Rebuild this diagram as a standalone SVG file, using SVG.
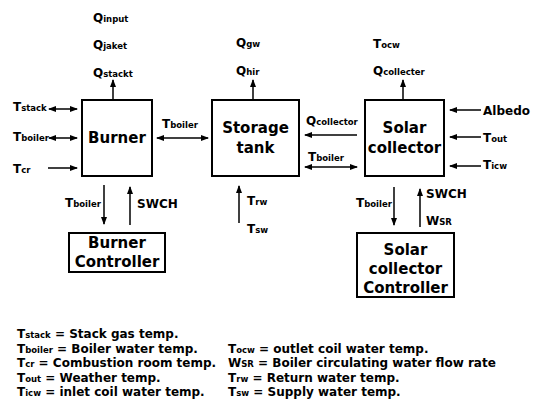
<svg xmlns="http://www.w3.org/2000/svg" width="540" height="408" viewBox="0 0 540 408">
<style>
text{font-family:"DejaVu Sans","Verdana",sans-serif;font-weight:bold;fill:#000}
.lb{font-size:12px}
.s{font-size:8.5px}
.bx{font-size:15px;text-anchor:middle}
.box{fill:#fff;stroke:#000;stroke-width:2}
.c line{stroke:#000;stroke-width:1.5}
</style>
<defs>
<marker id="ah" viewBox="0 0 8 6" refX="7" refY="3" markerWidth="8" markerHeight="6" markerUnits="userSpaceOnUse" orient="auto-start-reverse"><path d="M0,0 L8,3 L0,6 z" fill="#000"/></marker>
</defs>
<rect width="540" height="408" fill="#fff"/>

<g id="burner"><rect class="box" x="82" y="100" width="70" height="76"/><text class="bx" x="117" y="143">Burner</text></g>
<g id="storage"><rect class="box" x="212" y="100" width="87" height="76"/><text class="bx" x="255.5" y="133">Storage</text><text class="bx" x="255.5" y="153">tank</text></g>
<g id="solar"><rect class="box" x="365" y="100" width="79" height="76"/><text class="bx" x="404.5" y="133">Solar</text><text class="bx" x="404.5" y="153">collector</text></g>
<g id="burnerController"><rect class="box" x="69" y="233" width="96" height="39"/><text class="bx" x="117" y="248">Burner</text><text class="bx" x="117" y="267">Controller</text></g>
<g id="solarController"><rect class="box" x="357" y="233" width="97" height="64"/><text class="bx" x="405.5" y="255">Solar</text><text class="bx" x="405.5" y="274">collector</text><text class="bx" x="405.5" y="293">Controller</text></g>

<g id="connectors" class="c">
<line x1="113" y1="100" x2="113" y2="80" marker-end="url(#ah)"/>
<line x1="253" y1="100" x2="253" y2="80" marker-end="url(#ah)"/>
<line x1="403" y1="100" x2="403" y2="80" marker-end="url(#ah)"/>
<line x1="49" y1="109" x2="77" y2="109" marker-start="url(#ah)" marker-end="url(#ah)"/>
<line x1="49" y1="138" x2="77" y2="138" marker-start="url(#ah)" marker-end="url(#ah)"/>
<line x1="48" y1="168" x2="77" y2="168" marker-end="url(#ah)"/>
<line x1="157" y1="138" x2="208" y2="138" marker-start="url(#ah)" marker-end="url(#ah)"/>
<line x1="357" y1="135" x2="305" y2="135" marker-end="url(#ah)"/>
<line x1="305" y1="167" x2="357" y2="167" marker-start="url(#ah)" marker-end="url(#ah)"/>
<line x1="481" y1="110" x2="450" y2="110" marker-end="url(#ah)"/>
<line x1="481" y1="137" x2="450" y2="137" marker-end="url(#ah)"/>
<line x1="481" y1="166" x2="450" y2="166" marker-end="url(#ah)"/>
<line x1="104" y1="185" x2="104" y2="224" marker-end="url(#ah)"/>
<line x1="130" y1="225" x2="130" y2="187" marker-end="url(#ah)"/>
<line x1="239" y1="223" x2="239" y2="186" marker-end="url(#ah)"/>
<line x1="394" y1="187" x2="394" y2="225" marker-end="url(#ah)"/>
<line x1="420" y1="227" x2="420" y2="189" marker-end="url(#ah)"/>
</g>

<g id="labels" class="lb">
<text x="93" y="22">Q<tspan class="s">input</tspan></text>
<text x="93" y="49">Q<tspan class="s">jaket</tspan></text>
<text x="93" y="77">Q<tspan class="s">stackt</tspan></text>
<text x="236" y="47">Q<tspan class="s">gw</tspan></text>
<text x="236" y="75">Q<tspan class="s">hir</tspan></text>
<text x="373" y="48">T<tspan class="s">ocw</tspan></text>
<text x="373" y="75">Q<tspan class="s">collecter</tspan></text>
<text x="13" y="111">T<tspan class="s">stack</tspan></text>
<text x="13" y="141">T<tspan class="s">boiler</tspan></text>
<text x="13" y="173">T<tspan class="s">cr</tspan></text>
<text x="162" y="128">T<tspan class="s">boiler</tspan></text>
<text x="306" y="125">Q<tspan class="s">collector</tspan></text>
<text x="308" y="161">T<tspan class="s">boiler</tspan></text>
<text x="483" y="115">Albedo</text>
<text x="483" y="142">T<tspan class="s">out</tspan></text>
<text x="483" y="169">T<tspan class="s">icw</tspan></text>
<text x="65" y="207">T<tspan class="s">boiler</tspan></text>
<text x="137" y="208">SWCH</text>
<text x="247" y="205">T<tspan class="s">rw</tspan></text>
<text x="247" y="233">T<tspan class="s">sw</tspan></text>
<text x="356" y="207">T<tspan class="s">boiler</tspan></text>
<text x="426" y="198">SWCH</text>
<text x="426" y="225">W<tspan class="s">SR</tspan></text>
</g>

<g id="legend" class="lb">
<text x="17" y="338">T<tspan class="s">stack</tspan> = Stack gas temp.</text>
<text x="17" y="352.5">T<tspan class="s">boiler</tspan> = Boiler water temp.</text>
<text x="17" y="367">T<tspan class="s">cr</tspan> = Combustion room temp.</text>
<text x="17" y="381.5">T<tspan class="s">out</tspan> = Weather temp.</text>
<text x="17" y="396">T<tspan class="s">icw</tspan> = inlet coil water temp.</text>
<text x="228" y="352.5">T<tspan class="s">ocw</tspan> = outlet coil water temp.</text>
<text x="228" y="367">W<tspan class="s">SR</tspan> = Boiler circulating water flow rate</text>
<text x="228" y="381.5">T<tspan class="s">rw</tspan> = Return water temp.</text>
<text x="228" y="396">T<tspan class="s">sw</tspan> = Supply water temp.</text>
</g>
</svg>
